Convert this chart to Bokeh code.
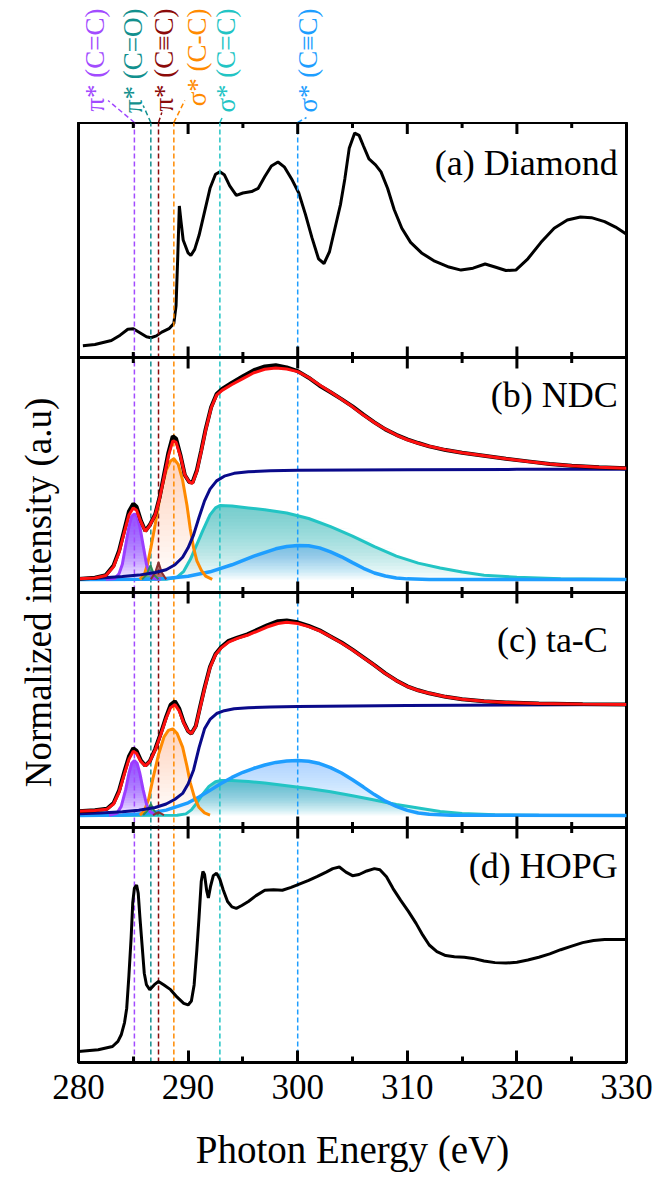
import numpy as np
from bokeh.plotting import figure
from bokeh.models import Range1d, FixedTicker, Span, Label
from bokeh.layouts import column
from bokeh.embed import file_html
from bokeh.resources import INLINE
from bokeh.core.properties import value

FONT = "Liberation Serif"

# ---------------- data (panel-relative intensities, 0..1 of each panel) ----------------
diamond_x = [280.4, 281.5, 283.0, 283.8, 284.5, 285.0, 285.6, 286.2, 286.6, 287.1, 287.6, 288.3, 288.7, 288.9,
             289.05, 289.2, 289.35, 289.55, 290.0, 290.25, 290.6, 291.0, 291.5, 292.0, 292.5, 292.9, 293.3,
             293.8, 294.4, 295.0, 295.8, 296.4, 297.0, 297.6, 298.2, 298.8, 299.5, 300.1, 300.7, 301.3, 301.9,
             302.4, 302.9, 303.4, 303.9, 304.3, 304.7, 305.2, 305.6, 306.0, 306.5, 307.1, 307.6, 308.2, 308.8,
             309.5, 310.3, 311.3, 312.5, 313.8, 314.9, 316.0, 317.1, 318.0, 319.0, 319.9, 321.0, 322.2, 323.4,
             324.6, 325.8, 326.8, 328.0, 329.0, 330.0]
diamond_y = [0.050, 0.055, 0.072, 0.095, 0.12, 0.122, 0.105, 0.088, 0.084, 0.092, 0.108, 0.124, 0.145, 0.22,
             0.42, 0.645, 0.58, 0.5, 0.445, 0.434, 0.46, 0.52, 0.62, 0.72, 0.78, 0.79, 0.778,
             0.73, 0.69, 0.70, 0.706, 0.72, 0.77, 0.815, 0.832, 0.81, 0.755, 0.70, 0.61, 0.51, 0.42,
             0.40, 0.45, 0.55, 0.65, 0.76, 0.89, 0.955, 0.945, 0.9, 0.845, 0.82, 0.79, 0.72, 0.63,
             0.55, 0.49, 0.445, 0.41, 0.385, 0.372, 0.38, 0.398, 0.385, 0.37, 0.372, 0.42, 0.49, 0.55,
             0.585, 0.598, 0.595, 0.578, 0.555, 0.525]

ndc_x = [280.0, 281.5, 282.5, 283.2, 283.7, 284.2, 284.6, 285.0, 285.3, 285.7, 286.1, 286.5, 287.0, 287.4,
         287.8, 288.2, 288.6, 288.9, 289.3, 289.7, 290.1, 290.4, 290.8, 291.2, 291.6, 292.1, 292.6, 293.1,
         294.0, 295.0, 296.0, 297.0, 298.0, 299.0, 300.0, 301.0, 302.0, 303.0, 304.0, 305.0, 306.0, 307.0,
         308.0, 309.0, 310.0, 311.0, 312.0, 313.5, 315.0, 317.0, 319.0, 321.0, 323.0, 325.0, 327.5, 330.0]
ndc_exp = [0.058, 0.063, 0.074, 0.115, 0.178, 0.27, 0.345, 0.378, 0.365, 0.305, 0.262, 0.287, 0.333, 0.405,
           0.5, 0.595, 0.665, 0.655, 0.585, 0.5, 0.47, 0.468, 0.52, 0.605, 0.695, 0.788, 0.845, 0.866,
           0.893, 0.92, 0.946, 0.962, 0.967, 0.958, 0.942, 0.914, 0.88, 0.852, 0.823, 0.792, 0.757, 0.724,
           0.694, 0.671, 0.652, 0.636, 0.622, 0.606, 0.595, 0.582, 0.569, 0.558, 0.547, 0.539, 0.533, 0.529]
ndc_fit = [0.058, 0.062, 0.072, 0.11, 0.17, 0.26, 0.33, 0.36, 0.35, 0.3, 0.26, 0.285, 0.33, 0.4,
           0.49, 0.58, 0.645, 0.64, 0.58, 0.5, 0.47, 0.465, 0.515, 0.6, 0.69, 0.785, 0.84, 0.86,
           0.885, 0.91, 0.935, 0.95, 0.955, 0.951, 0.94, 0.915, 0.883, 0.853, 0.822, 0.79, 0.755, 0.723,
           0.695, 0.67, 0.65, 0.635, 0.622, 0.607, 0.595, 0.582, 0.569, 0.557, 0.547, 0.539, 0.533, 0.529]
ndc_step_x = [280.0, 282.0, 284.0, 285.5, 287.0, 288.0, 288.8, 289.5, 290.0, 290.5, 291.0, 291.5, 292.0,
              292.6, 293.3, 294.2, 295.5, 297.5, 300.0, 305.0, 310.0, 320.0, 330.0]
ndc_step_y = [0.058, 0.062, 0.068, 0.074, 0.085, 0.097, 0.118, 0.15, 0.19, 0.245, 0.32, 0.39, 0.44,
              0.475, 0.495, 0.507, 0.514, 0.518, 0.52, 0.521, 0.522, 0.524, 0.525]
ndc_scc_x = [280.0, 288.0, 289.0, 289.6, 290.2, 290.8, 291.4, 292.0, 292.5, 292.9, 294.0, 295.5, 297.0,
             299.0, 301.0, 303.0, 305.0, 307.0, 309.0, 311.0, 313.0, 315.0, 317.0, 320.0, 324.0, 330.0]
ndc_scc_y = [0.055, 0.056, 0.065, 0.09, 0.14, 0.205, 0.27, 0.33, 0.36, 0.37, 0.368, 0.36, 0.352,
             0.338, 0.315, 0.28, 0.24, 0.195, 0.155, 0.125, 0.104, 0.087, 0.073, 0.065, 0.059, 0.055]
ndc_sct_x = [280.0, 286.0, 288.0, 290.0, 292.0, 294.0, 296.0, 298.0, 299.0, 300.0, 301.0, 302.0, 303.0,
             304.0, 305.0, 306.0, 307.0, 308.0, 309.0, 310.0, 312.0, 330.0]
ndc_sct_y = [0.055, 0.056, 0.06, 0.069, 0.088, 0.118, 0.155, 0.186, 0.196, 0.2, 0.199, 0.19, 0.173,
             0.152, 0.127, 0.103, 0.083, 0.07, 0.062, 0.058, 0.055, 0.055]
ndc_pcc_x = [282.5, 283.3, 283.7, 284.0, 284.3, 284.6, 284.85, 285.1, 285.35, 285.6, 285.9, 286.2, 286.5, 286.9, 287.5]
ndc_pcc_y = [0.056, 0.06, 0.08, 0.12, 0.2, 0.28, 0.325, 0.335, 0.325, 0.28, 0.2, 0.12, 0.08, 0.06, 0.056]
ndc_pco_x = [285.8, 286.2, 286.57, 286.9, 287.3]
ndc_pco_y = [0.056, 0.075, 0.115, 0.075, 0.056]
ndc_pct_x = [286.6, 287.0, 287.3, 287.6, 288.0]
ndc_pct_y = [0.056, 0.085, 0.128, 0.085, 0.056]
ndc_scc1_x = [285.6, 286.0, 286.3, 286.6, 287.0, 287.5, 288.0, 288.4, 288.7, 289.1, 289.5, 289.9, 290.2,
              290.5, 290.8, 291.2, 291.6, 292.2]
ndc_scc1_y = [0.056, 0.075, 0.12, 0.19, 0.29, 0.425, 0.52, 0.56, 0.569, 0.545, 0.478, 0.37, 0.27,
              0.19, 0.135, 0.095, 0.07, 0.056]

tac_x = [280.0, 281.5, 282.6, 283.2, 283.7, 284.2, 284.6, 285.0, 285.3, 285.7, 286.1, 286.5, 287.0, 287.5,
         288.0, 288.4, 288.8, 289.2, 289.6, 290.0, 290.3, 290.7, 291.1, 291.5, 292.0, 292.5, 293.0, 293.7,
         294.5, 295.4, 296.3, 297.2, 298.2, 299.0, 300.0, 301.0, 302.0, 303.0, 304.0, 305.0, 306.0, 307.0,
         308.0, 309.0, 310.0, 311.0, 312.0, 313.5, 315.0, 317.0, 319.0, 322.0, 326.0, 330.0]
tac_exp = [0.069, 0.073, 0.08, 0.104, 0.157, 0.24, 0.302, 0.337, 0.326, 0.285, 0.263, 0.282, 0.334, 0.4,
           0.472, 0.522, 0.537, 0.505, 0.448, 0.41, 0.4, 0.432, 0.515, 0.595, 0.684, 0.738, 0.767, 0.794,
           0.808, 0.822, 0.841, 0.86, 0.878, 0.881, 0.873, 0.858, 0.839, 0.813, 0.787, 0.757, 0.724, 0.691,
           0.656, 0.626, 0.601, 0.584, 0.571, 0.556, 0.546, 0.537, 0.532, 0.528, 0.525, 0.523]
tac_fit = [0.069, 0.072, 0.078, 0.1, 0.15, 0.23, 0.29, 0.325, 0.315, 0.28, 0.262, 0.28, 0.33, 0.395,
           0.465, 0.51, 0.523, 0.495, 0.445, 0.41, 0.4, 0.43, 0.51, 0.59, 0.68, 0.735, 0.763, 0.789,
           0.805, 0.818, 0.835, 0.853, 0.868, 0.873, 0.868, 0.855, 0.837, 0.812, 0.785, 0.755, 0.722, 0.69,
           0.655, 0.625, 0.6, 0.583, 0.571, 0.556, 0.546, 0.537, 0.532, 0.528, 0.525, 0.523]
tac_step_x = [280.0, 282.0, 284.0, 285.5, 287.0, 288.0, 288.8, 289.5, 290.0, 290.5, 291.0, 291.5, 292.0,
              292.6, 293.3, 294.2, 295.5, 297.5, 300.0, 305.0, 310.0, 320.0, 330.0]
tac_step_y = [0.058, 0.062, 0.067, 0.073, 0.085, 0.1, 0.12, 0.145, 0.185, 0.245, 0.34, 0.42, 0.46,
              0.485, 0.497, 0.505, 0.51, 0.513, 0.515, 0.517, 0.519, 0.521, 0.523]
tac_scc_x = [280.0, 289.0, 289.8, 290.3, 290.8, 291.3, 291.9, 292.5, 293.0, 294.0, 295.5, 297.0, 299.0,
             301.0, 303.0, 305.0, 307.0, 309.0, 311.0, 313.0, 315.0, 318.0, 322.0, 330.0]
tac_scc_y = [0.051, 0.052, 0.058, 0.075, 0.105, 0.14, 0.175, 0.195, 0.2, 0.2, 0.196, 0.189, 0.178,
             0.166, 0.152, 0.135, 0.117, 0.098, 0.083, 0.068, 0.06, 0.054, 0.052, 0.051]
tac_sct_x = [280.0, 284.0, 286.0, 288.0, 290.0, 291.0, 292.0, 293.0, 294.0, 295.0, 296.0, 297.0, 298.0,
             299.0, 300.0, 301.0, 302.0, 303.0, 304.0, 305.0, 306.0, 307.0, 308.0, 309.0, 310.0, 311.0,
             312.0, 314.0, 330.0]
tac_sct_y = [0.051, 0.053, 0.058, 0.074, 0.105, 0.13, 0.158, 0.187, 0.213, 0.235, 0.252, 0.266, 0.277,
             0.283, 0.285, 0.282, 0.272, 0.255, 0.232, 0.203, 0.172, 0.14, 0.112, 0.09, 0.073, 0.062,
             0.056, 0.052, 0.051]
tac_pcc_x = [282.8, 283.5, 283.9, 284.3, 284.6, 284.85, 285.1, 285.35, 285.6, 285.9, 286.2, 286.5, 287.0]
tac_pcc_y = [0.052, 0.06, 0.09, 0.16, 0.23, 0.273, 0.285, 0.273, 0.23, 0.16, 0.1, 0.068, 0.053]
tac_pco_x = [285.9, 286.3, 286.6, 286.9, 287.3]
tac_pco_y = [0.053, 0.072, 0.1, 0.072, 0.053]
tac_pct_x = [286.8, 287.3, 287.8]
tac_pct_y = [0.053, 0.065, 0.053]
tac_scc1_x = [285.6, 286.0, 286.4, 286.8, 287.3, 287.8, 288.2, 288.6, 289.0, 289.5, 289.9, 290.2, 290.6,
              291.0, 291.5, 292.0]
tac_scc1_y = [0.053, 0.07, 0.12, 0.21, 0.31, 0.385, 0.413, 0.42, 0.4, 0.342, 0.26, 0.19, 0.125,
              0.085, 0.062, 0.053]

hopg_x = [280.0, 281.8, 283.1, 283.6, 283.9, 284.2, 284.4, 284.6, 284.8, 284.95, 285.1, 285.3, 285.45, 285.6,
          285.8, 286.0, 286.2, 286.5, 286.9, 287.3, 287.8, 288.4, 289.0, 289.6, 290.0, 290.3, 290.55, 290.8,
          291.0, 291.2, 291.35, 291.5, 291.7, 291.85, 292.05, 292.3, 292.6, 292.9, 293.2, 293.6, 294.0, 294.4,
          294.9, 295.5, 296.2, 297.0, 297.8, 298.6, 299.4, 300.2, 301.0, 301.8, 302.6, 303.2, 303.8, 304.4,
          305.0, 305.6, 306.3, 307.0, 307.5, 308.1, 308.7, 309.4, 310.1, 310.8, 311.4, 312.0, 312.7, 313.5,
          314.3, 315.2, 316.0, 317.0, 318.0, 319.0, 320.0, 321.0, 322.0, 323.0, 324.0, 325.0, 326.0, 327.0,
          328.0, 330.0]
hopg_y = [0.047, 0.054, 0.068, 0.09, 0.118, 0.17, 0.231, 0.37, 0.529, 0.68, 0.742, 0.755, 0.72, 0.62,
          0.5, 0.38, 0.331, 0.31, 0.33, 0.345, 0.33, 0.31, 0.278, 0.252, 0.245, 0.262, 0.33, 0.48,
          0.62, 0.77, 0.813, 0.8, 0.73, 0.7, 0.75, 0.795, 0.806, 0.78, 0.735, 0.685, 0.662, 0.656,
          0.668, 0.685, 0.71, 0.733, 0.735, 0.733, 0.745, 0.76, 0.775, 0.792, 0.81, 0.825, 0.832, 0.81,
          0.795, 0.8, 0.815, 0.825, 0.82, 0.79, 0.74, 0.69, 0.643, 0.592, 0.543, 0.5, 0.472, 0.455,
          0.45, 0.448, 0.443, 0.432, 0.425, 0.423, 0.427, 0.436, 0.448, 0.462, 0.48, 0.495, 0.51, 0.519,
          0.523, 0.523]

major_ticks = [280, 290, 300, 310, 320, 330]
minor_ticks = [285, 295, 305, 315, 325]
inner_major = [290, 300, 310, 320]

transition_labels = ["\u03c0* (C=C)", "\u03c0* (C=O)", "\u03c0* (C\u2261C)",
                     "\u03c3* (C-C)", "\u03c3* (C=C)", "\u03c3* (C\u2261C)"]
transition_energy = [285.1, 286.6, 287.3, 288.7, 292.9, 300.0]
transition_colors = ["#A24BFF", "#12908E", "#8B0A0A", "#FF8A00", "#22C4C4", "#1E9EFF"]
label_center_x = [281.55, 284.93, 287.76, 290.77, 293.5, 300.9]
leader_end_x = [282.7, 285.9, 287.6, 289.7, 293.2, 300.8]
leader_end_y = [22, 17, 10, 22, 7, 5]

panel_names = ["(a) Diamond", "(b) NDC", "(c) ta-C", "(d) HOPG"]
panel_offset = [3, 2, 1, 0]
panel_label_x = [329.2, 329.2, 328.3, 329.2]
panel_label_drop = [40, 37, 47, 38]

# ---------------- layout constants ----------------
W = 655
LEFT, RIGHT = 78, 29
HEADER_H = 122
PANEL_PX = 235
MAIN_H = 1054
BOTTOM = MAIN_H - 4 * PANEL_PX

xr = Range1d(280, 330)

# ---------------- header with transition labels ----------------
header = figure(width=W, height=HEADER_H, x_range=xr, y_range=Range1d(0, HEADER_H),
                output_backend="svg", toolbar_location=None,
                x_axis_location=None, y_axis_location=None,
                min_border_left=LEFT, min_border_right=RIGHT, min_border_top=0, min_border_bottom=0,
                outline_line_color=None)
header.xgrid.visible = False
header.ygrid.visible = False
header.segment(x0=transition_energy, y0=[0] * 6, x1=leader_end_x, y1=leader_end_y,
               line_color=transition_colors, line_dash="5 3", line_width=1.5)
header.text(x=label_center_x, y=[HEADER_H - 8] * 6, text=transition_labels, angle=np.pi / 2,
            text_color=transition_colors, text_font=value(FONT), text_font_size="27px",
            text_align="right", text_baseline="middle")

# ---------------- main stacked figure ----------------
p = figure(width=W, height=MAIN_H, x_range=xr, y_range=Range1d(0, 4),
           output_backend="svg", toolbar_location=None,
           min_border_left=LEFT, min_border_right=RIGHT, min_border_top=0, min_border_bottom=BOTTOM,
           x_axis_label="Photon Energy (eV)", y_axis_label="Normalized intensity (a.u)")
p.xgrid.visible = False
p.ygrid.visible = False
p.outline_line_color = "black"
p.outline_line_width = 3

xa = p.xaxis[0]
xa.ticker = FixedTicker(ticks=major_ticks, minor_ticks=minor_ticks)
xa.major_tick_in = 12
xa.major_tick_out = 0
xa.minor_tick_in = 6
xa.minor_tick_out = 0
xa.axis_line_width = 3
xa.major_tick_line_width = 3
xa.minor_tick_line_width = 3
xa.major_label_text_font = FONT
xa.major_label_text_font_size = "35px"
xa.major_label_text_color = "black"
xa.major_label_standoff = 12
xa.axis_label_text_font = FONT
xa.axis_label_text_font_size = "39px"
xa.axis_label_text_font_style = "normal"
xa.axis_label_text_color = "black"
xa.axis_label_standoff = 26

ya = p.yaxis[0]
ya.ticker = FixedTicker(ticks=[])
ya.major_tick_in = 0
ya.major_tick_out = 0
ya.minor_tick_in = 0
ya.minor_tick_out = 0
ya.major_label_text_font_size = "0px"
ya.major_label_standoff = 0
ya.axis_line_width = 3
ya.axis_label_text_font = FONT
ya.axis_label_text_font_size = "37px"
ya.axis_label_text_font_style = "normal"
ya.axis_label_text_color = "black"
ya.axis_label_standoff = 20


def gradient_fill(fig, xs, ys, base, off, color, alpha_top, n=22):
    ys = np.asarray(ys, dtype=float)
    xs = np.asarray(xs, dtype=float)
    top = ys.max()
    a = 1 - (1 - alpha_top) ** (1.0 / n)
    for lv in np.linspace(base, top, n, endpoint=False):
        fig.varea(x=xs, y1=np.full_like(ys, lv) + off, y2=np.maximum(ys, lv) + off,
                  fill_color=color, fill_alpha=a)


def shift(ys, off):
    return [v + off for v in ys]


# panel (a) Diamond
p.line(diamond_x, shift(diamond_y, panel_offset[0]), line_color="black", line_width=3)

# fitted panels (b) and (c)
fits = [
    (panel_offset[1], ndc_x, ndc_exp, ndc_fit, ndc_step_x, ndc_step_y, ndc_scc_x, ndc_scc_y,
     ndc_sct_x, ndc_sct_y, ndc_pcc_x, ndc_pcc_y, ndc_pco_x, ndc_pco_y, ndc_pct_x, ndc_pct_y,
     ndc_scc1_x, ndc_scc1_y),
    (panel_offset[2], tac_x, tac_exp, tac_fit, tac_step_x, tac_step_y, tac_scc_x, tac_scc_y,
     tac_sct_x, tac_sct_y, tac_pcc_x, tac_pcc_y, tac_pco_x, tac_pco_y, tac_pct_x, tac_pct_y,
     tac_scc1_x, tac_scc1_y),
]

for (off, ex, exp_y, fit_y, stx, sty, sccx, sccy, sctx, scty, pccx, pccy, pcox, pcoy, pctx, pcty,
     s1x, s1y) in fits:
    base = min(sccy)
    gradient_fill(p, sccx, sccy, base, off, "#28B8B8", 0.62)
    gradient_fill(p, sctx, scty, base, off, "#4A90FF", 0.33)
    gradient_fill(p, s1x, s1y, base, off, "#FF9A5A", 0.3)
    gradient_fill(p, pccx, pccy, base, off, "#8A3CFF", 0.85)
    p.varea(x=pcox, y1=[base + off] * len(pcox), y2=shift(pcoy, off), fill_color="#3E9E6A", fill_alpha=0.8)
    p.varea(x=pctx, y1=[base + off] * len(pctx), y2=shift(pcty, off), fill_color="#9E4A4A", fill_alpha=0.8)

# dashed transition lines through all panels
p.segment(x0=transition_energy, y0=[0] * 6, x1=transition_energy, y1=[4] * 6,
          line_color=transition_colors, line_dash="5 3", line_width=1.5)

for (off, ex, exp_y, fit_y, stx, sty, sccx, sccy, sctx, scty, pccx, pccy, pcox, pcoy, pctx, pcty,
     s1x, s1y) in fits:
    p.line(sccx, shift(sccy, off), line_color="#22C4C4", line_width=3)
    p.line(sctx, shift(scty, off), line_color="#1E9EFF", line_width=3.5)
    p.line(s1x, shift(s1y, off), line_color="#FF8A00", line_width=3)
    p.line(pccx, shift(pccy, off), line_color="#9B3DFF", line_width=3)
    p.line(pcox, shift(pcoy, off), line_color="#2E8B57", line_width=2)
    p.line(pctx, shift(pcty, off), line_color="#8B3030", line_width=2)
    p.line(stx, shift(sty, off), line_color="#0A0A8A", line_width=3)
    p.line(ex, shift(exp_y, off), line_color="black", line_width=4)
    p.line(ex, shift(fit_y, off), line_color="#FF1010", line_width=3)

# panel (d) HOPG
p.line(hopg_x, shift(hopg_y, panel_offset[3]), line_color="black", line_width=3)

# panel separators and inner ticks
maj_len = 11.0 / PANEL_PX
min_len = 5.5 / PANEL_PX
for b in [1, 2, 3]:
    p.add_layout(Span(location=b, dimension="width", line_color="black", line_width=3))
    p.segment(x0=inner_major, y0=[b - maj_len] * len(inner_major), x1=inner_major,
              y1=[b + maj_len] * len(inner_major), line_color="black", line_width=3)
    p.segment(x0=minor_ticks, y0=[b - min_len] * len(minor_ticks), x1=minor_ticks,
              y1=[b + min_len] * len(minor_ticks), line_color="black", line_width=3)
# top ticks
p.segment(x0=inner_major, y0=[4 - maj_len - 0.002] * len(inner_major), x1=inner_major,
          y1=[4] * len(inner_major), line_color="black", line_width=3)
p.segment(x0=minor_ticks, y0=[4 - min_len] * len(minor_ticks), x1=minor_ticks,
          y1=[4] * len(minor_ticks), line_color="black", line_width=3)

# panel labels
for name, off, lx, drop in zip(panel_names, panel_offset, panel_label_x, panel_label_drop):
    p.add_layout(Label(x=lx, y=off + 1 - drop / PANEL_PX, text=name, text_align="right",
                       text_baseline="alphabetic", text_font=FONT, text_font_size="36px",
                       text_color="black"))

layout = column(header, p)
open("out.html", "w").write(file_html(layout, INLINE))
